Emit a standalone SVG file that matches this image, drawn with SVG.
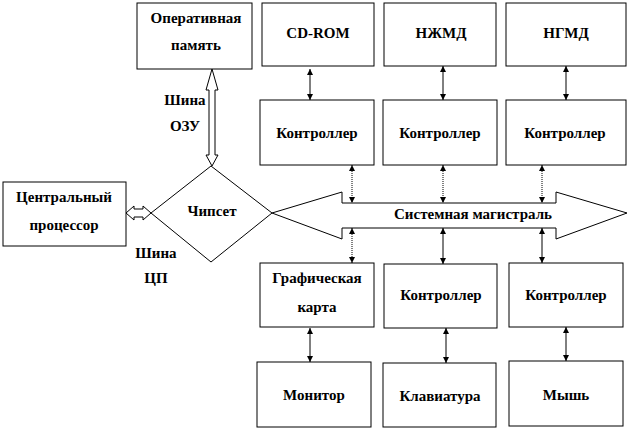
<svg xmlns="http://www.w3.org/2000/svg" width="632" height="431" viewBox="0 0 632 431">
<style>
  .box { fill: #ffffff; stroke: #000000; stroke-width: 1; }
  .t { font-family: "Liberation Serif", "DejaVu Serif", serif; font-weight: bold; font-size: 15px; fill: #000000; text-anchor: middle; dominant-baseline: central; }
  .c { stroke: #000000; stroke-width: 1; fill: none; marker-start: url(#ah); marker-end: url(#ah); }
  .d { stroke-dasharray: 1 1; }
  .hollow { fill: #ffffff; stroke: #000000; stroke-width: 1; }
</style>
<defs>
  <marker id="ah" markerUnits="userSpaceOnUse" markerWidth="7" markerHeight="7" refX="6" refY="3" orient="auto-start-reverse">
    <path d="M0,0 L6,3 L0,6 z" fill="#000000"/>
  </marker>
</defs>
<rect width="632" height="431" fill="#ffffff"/>

<g id="connectors">
  <polygon class="hollow" points="212,69 218,90 215,90 215,155 218,155 212,166 206,155 209,155 209,90 206,90"/>
  <polygon class="hollow" points="126,213 134,206 134,209 143,209 143,206 151,213 143,220 143,217 134,217 134,220"/>
  <line class="c" x1="310" y1="69" x2="310" y2="100"/>
  <line class="c" x1="443" y1="66" x2="443" y2="100"/>
  <line class="c" x1="566" y1="66" x2="566" y2="100"/>
  <line class="c d" x1="352" y1="165" x2="352" y2="203"/>
  <line class="c d" x1="443" y1="165" x2="443" y2="203"/>
  <line class="c d" x1="542" y1="165" x2="542" y2="203"/>
  <line class="c d" x1="352" y1="228" x2="352" y2="263"/>
  <line class="c" x1="443" y1="228" x2="443" y2="264"/>
  <line class="c" x1="542" y1="228" x2="542" y2="263"/>
  <line class="c" x1="310" y1="328" x2="310" y2="362"/>
  <line class="c" x1="446" y1="328" x2="446" y2="363"/>
  <line class="c" x1="566" y1="327" x2="566" y2="361"/>
</g>

<g id="bus">
  <polygon class="box" points="272,213 342,192 342,203 556,203 556,192 627,213 556,239 556,228 342,228 342,239"/>
  <text class="t" x="473" y="214">Системная магистраль</text>
</g>

<g id="ram"><rect class="box" x="137" y="3" width="115" height="66"/>
  <text class="t" x="196" y="18">Оперативная</text><text class="t" x="196" y="45">память</text></g>
<g id="cdrom"><rect class="box" x="262" y="3" width="112" height="63"/><text class="t" x="318" y="33">CD-ROM</text></g>
<g id="hdd"><rect class="box" x="384" y="3" width="112" height="63"/><text class="t" x="441" y="33">НЖМД</text></g>
<g id="fdd"><rect class="box" x="506" y="3" width="120" height="63"/><text class="t" x="566" y="33">НГМД</text></g>

<g id="ctrl1"><rect class="box" x="260" y="100" width="114" height="65"/><text class="t" x="317" y="133">Контроллер</text></g>
<g id="ctrl2"><rect class="box" x="383" y="100" width="114" height="65"/><text class="t" x="440" y="133">Контроллер</text></g>
<g id="ctrl3"><rect class="box" x="506" y="100" width="120" height="65"/><text class="t" x="565" y="133">Контроллер</text></g>

<g id="cpu"><rect class="box" x="3" y="182" width="123" height="64"/>
  <text class="t" x="64" y="197">Центральный</text><text class="t" x="64" y="225">процессор</text></g>
<g id="chipset"><polygon class="box" points="211,166 272,213 211,262 151,213"/><text class="t" x="212" y="211">Чипсет</text></g>

<g id="bus-labels">
  <text class="t" x="185" y="100">Шина</text><text class="t" x="185" y="126">ОЗУ</text>
  <text class="t" x="156" y="253">Шина</text><text class="t" x="156" y="278">ЦП</text>
</g>

<g id="gpu"><rect class="box" x="260" y="263" width="114" height="64"/>
  <text class="t" x="317" y="278">Графическая</text><text class="t" x="317" y="307">карта</text></g>
<g id="ctrl4"><rect class="box" x="384" y="264" width="113" height="64"/><text class="t" x="441" y="295">Контроллер</text></g>
<g id="ctrl5"><rect class="box" x="509" y="263" width="114" height="64"/><text class="t" x="566" y="295">Контроллер</text></g>

<g id="monitor"><rect class="box" x="257" y="362" width="114" height="65"/><text class="t" x="314" y="395">Монитор</text></g>
<g id="keyboard"><rect class="box" x="383" y="363" width="113" height="64"/><text class="t" x="440" y="396">Клавиатура</text></g>
<g id="mouse"><rect class="box" x="509" y="361" width="114" height="65"/><text class="t" x="566" y="395">Мышь</text></g>
</svg>
